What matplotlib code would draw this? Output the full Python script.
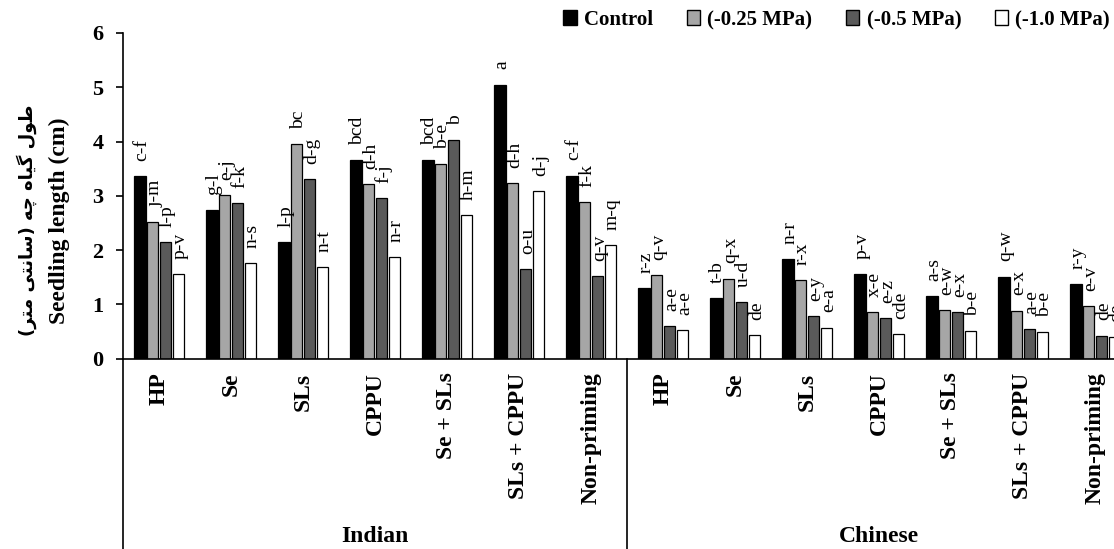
import matplotlib
matplotlib.use('Agg')
import matplotlib.pyplot as plt
import matplotlib.transforms as mtransforms
from matplotlib.patches import Patch
from matplotlib.lines import Line2D
import numpy as np

plt.rcParams['font.family'] = ['Liberation Serif', 'DejaVu Sans']

# data
treatments = ['HP', 'Se', 'SLs', 'CPPU', 'Se + SLs', 'SLs + CPPU', 'Non-priming']
cultivars = ['Indian', 'Chinese']
series_names = ['Control', '(-0.25 MPa)', '(-0.5 MPa)', '(-1.0 MPa)']

control = [3.36, 2.73, 2.15, 3.66, 3.65, 5.05, 3.37,
           1.30, 1.11, 1.83, 1.56, 1.15, 1.51, 1.37]
mpa_025 = [2.51, 3.01, 3.95, 3.22, 3.58, 3.23, 2.88,
           1.53, 1.47, 1.45, 0.86, 0.89, 0.88, 0.96]
mpa_05 = [2.15, 2.86, 3.30, 2.95, 4.02, 1.65, 1.52,
          0.60, 1.04, 0.78, 0.74, 0.85, 0.54, 0.42]
mpa_10 = [1.56, 1.76, 1.69, 1.87, 2.64, 3.09, 2.09,
          0.52, 0.43, 0.57, 0.45, 0.50, 0.48, 0.40]

letters_control = ['c-f', 'g-l', 'l-p', 'bcd', 'bcd', 'a', 'c-f',
                   'r-z', 't-b', 'n-r', 'p-v', 'a-s', 'q-w', 'r-y']
letters_025 = ['j-m', 'e-j', 'bc', 'd-h', 'b-e', 'd-h', 'f-k',
               'q-v', 'q-x', 'r-x', 'x-e', 'e-w', 'e-x', 'e-v']
letters_05 = ['l-p', 'f-k', 'd-g', 'f-j', 'b', 'o-u', 'q-v',
              'a-e', 'u-d', 'e-y', 'e-z', 'e-x', 'a-e', 'de']
letters_10 = ['p-v', 'n-s', 'n-t', 'n-r', 'h-m', 'd-j', 'm-q',
              'a-e', 'de', 'e-a', 'cde', 'b-e', 'b-e', 'de']

ylabel_en = 'Seedling length (cm)'
ylabel_fa = 'طول گیاه چه (سانتی متر)'

colors = ['#000000', '#a6a6a6', '#5a5a5a', '#ffffff']


# simple Arabic-script shaping (matplotlib has no shaper)
FORMS = {
    '\u0637': ('\uFEC1', '\uFEC2', '\uFEC3', '\uFEC4'),
    '\u0648': ('\uFEED', '\uFEEE', None, None),
    '\u0644': ('\uFEDD', '\uFEDE', '\uFEDF', '\uFEE0'),
    '\u06AF': ('\uFB92', '\uFB93', '\uFB94', '\uFB95'),
    '\u06CC': ('\uFBFC', '\uFBFD', '\uFBFE', '\uFBFF'),
    '\u0627': ('\uFE8D', '\uFE8E', None, None),
    '\u0647': ('\uFEE9', '\uFEEA', '\uFEEB', '\uFEEC'),
    '\u0686': ('\uFB7A', '\uFB7B', '\uFB7C', '\uFB7D'),
    '\u0633': ('\uFEB1', '\uFEB2', '\uFEB3', '\uFEB4'),
    '\u0646': ('\uFEE5', '\uFEE6', '\uFEE7', '\uFEE8'),
    '\u062A': ('\uFE95', '\uFE96', '\uFE97', '\uFE98'),
    '\u0645': ('\uFEE1', '\uFEE2', '\uFEE3', '\uFEE4'),
    '\u0631': ('\uFEAD', '\uFEAE', None, None),
}


def shape_rtl(s):
    out = []
    for i, ch in enumerate(s):
        if ch not in FORMS:
            out.append(ch)
            continue
        prev = s[i - 1] if i > 0 else ''
        nxt = s[i + 1] if i + 1 < len(s) else ''
        join_prev = prev in FORMS and FORMS[prev][2] is not None
        join_next = FORMS[ch][2] is not None and nxt in FORMS
        f = FORMS[ch]
        if join_prev and join_next:
            out.append(f[3])
        elif join_prev:
            out.append(f[1])
        elif join_next:
            out.append(f[2])
        else:
            out.append(f[0])
    vis = ''.join(reversed(out))
    return vis.translate(str.maketrans('()', ')('))


fig = plt.figure(figsize=(11.14, 5.49), dpi=100)
ax = fig.add_axes([123 / 1114, 190.5 / 549, 1008 / 1114, 325.5 / 549])

x = np.arange(len(cultivars) * len(treatments))
offsets = [-0.27, -0.09, 0.09, 0.27]
all_series = [control, mpa_025, mpa_05, mpa_10]
all_letters = [letters_control, letters_025, letters_05, letters_10]

for vals, lets, off, c in zip(all_series, all_letters, offsets, colors):
    ax.bar(x + off, vals, width=0.165, color=c, edgecolor='black', linewidth=0.9)
    for xi, v, t in zip(x + off, vals, lets):
        ax.annotate(t, (xi, v), xytext=(1.5, 11), textcoords='offset points',
                    rotation=90, ha='center', va='bottom', fontsize=14)

ax.set_xlim(-0.5, len(x) - 0.5)
ax.set_ylim(0, 6)
ax.set_yticks(range(7))
ax.tick_params(axis='y', direction='out', length=5, width=1.2, pad=9, labelsize=16)
for lab in ax.get_yticklabels():
    lab.set_fontweight('bold')

ax.set_xticks(x)
ax.set_xticklabels(treatments * 2, rotation=90, fontsize=17, fontweight='bold', va='top')
ax.tick_params(axis='x', length=0, pad=10)

for s in ['top', 'right']:
    ax.spines[s].set_visible(False)
ax.spines['left'].set_linewidth(1.2)
ax.spines['bottom'].set_linewidth(1.2)

# multi-level category axis: group dividers and group names
trans = mtransforms.blended_transform_factory(ax.transData, fig.transFigure)
ax_bottom = 190.5 / 549
for xs in [-0.5, 6.5]:
    fig.add_artist(Line2D([xs, xs], [0, ax_bottom], transform=trans, color='black', lw=1.2))
for k, name in enumerate(cultivars):
    fig.text(k * len(treatments) + 3, 0.022, name, transform=trans, fontsize=17,
             fontweight='bold', ha='center', va='center')

# y labels (English + Persian)
fig.text(59 / 1114, 1 - 221 / 549, ylabel_en, rotation=90, ha='center', va='center',
         fontsize=17, fontweight='bold')
fig.text(27 / 1114, 1 - 220 / 549, shape_rtl(ylabel_fa), rotation=90, ha='center', va='center',
         fontsize=13, fontweight='bold', family='DejaVu Sans')

handles = [Patch(facecolor=c, edgecolor='black', linewidth=1.0) for c in colors]
fig.legend(handles, series_names, ncol=4, loc='center right',
           bbox_to_anchor=(1110 / 1114, 1 - 20 / 549), frameon=False,
           prop={'weight': 'bold', 'size': 15}, handlelength=0.65, handleheight=0.7,
           handletextpad=0.35, columnspacing=1.6, borderaxespad=0, borderpad=0)

fig.savefig('out.png', dpi=100)
